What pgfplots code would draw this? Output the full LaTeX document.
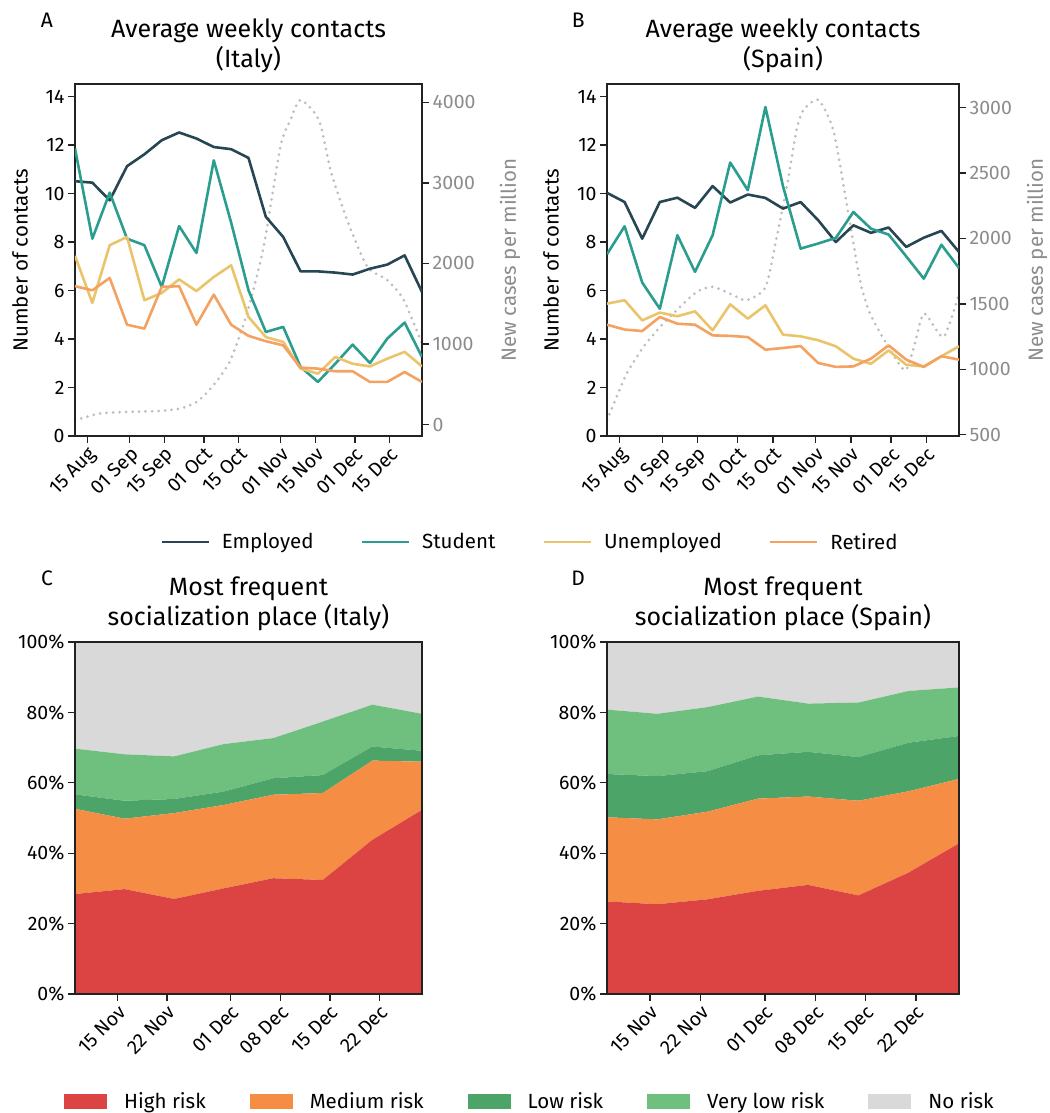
\documentclass[border=0pt]{standalone}
\usepackage{fontspec}
\setmainfont{Fira Sans}
\usepackage{pgfplots}
\pgfplotsset{compat=1.18}
\definecolor{cEmp}{HTML}{264653}
\definecolor{cStu}{HTML}{2A9D8F}
\definecolor{cUne}{HTML}{E9C46A}
\definecolor{cRet}{HTML}{F4A261}
\definecolor{cCase}{HTML}{BDBDBD}
\definecolor{cGray}{HTML}{8C8C8C}
\definecolor{rHigh}{HTML}{DC4343}
\definecolor{rMed}{HTML}{F68D45}
\definecolor{rLow}{HTML}{4CA468}
\definecolor{rVLow}{HTML}{6FC07F}
\definecolor{rNo}{HTML}{D9D9D9}
\definecolor{axc}{HTML}{222222}
\newcommand\tfs{\fontsize{19.5}{23}\selectfont}
\newcommand\lfs{\fontsize{20.5}{24}\selectfont}
\newcommand\pfs{\fontsize{21}{24}\selectfont}
\newcommand\ttfs{\fontsize{25}{30}\selectfont}
\pgfplotsset{
  base/.style={scale only axis, height=352pt, clip mode=individual,
    axis line style={line width=1.5pt, color=axc},
    every tick/.style={line width=1.3pt, color=axc},
    major tick length=7pt, tick align=outside,
    ticklabel style={font=\tfs},
    label style={font=\lfs},
    /pgf/number format/assume math mode=true,
    /pgf/number format/1000 sep={},
  },
  contax/.style={base, xmin=-5, xmax=135, ymin=0, ymax=14.52,
    xtick pos=bottom, ytick pos=left,
    ytick={0,2,...,14},
    xtick={0,17,31,47,61,78,92,108,122},
    xticklabels={15 Aug,01 Sep,15 Sep,01 Oct,15 Oct,01 Nov,15 Nov,01 Dec,15 Dec},
    xticklabel style={rotate=45, anchor=north east, inner sep=2pt},
    ylabel={Number of contacts},
    title style={font=\ttfs, align=center, anchor=south, at={(0.5,1)}, yshift=2pt},
  },
  casesax/.style={base, xmin=-5, xmax=135, axis x line=none, axis y line*=right,
    yticklabel style={color=cGray},
    ylabel style={color=cGray, anchor=center},
  },
  caseline/.style={color=cCase, line width=3pt, line cap=round, dash pattern=on 0pt off 6.5pt, smooth, tension=0.4},
  ln/.style={line width=2.6pt, line join=round},
  areaax/.style={base, xmin=-6, xmax=43, ymin=0, ymax=100, axis on top,
    xtick pos=bottom, ytick pos=left,
    ytick={0,20,...,100}, yticklabels={0\%,20\%,40\%,60\%,80\%,100\%},
    xtick={0,7,16,23,30,37},
    xticklabels={15 Nov,22 Nov,01 Dec,08 Dec,15 Dec,22 Dec},
    xticklabel style={rotate=45, anchor=north east, inner sep=2pt},
    title style={font=\ttfs, align=center, anchor=south, at={(0.5,1)}, yshift=2pt},
    stack plots=y, area legend,
  },
}
\begin{document}
\begin{tikzpicture}
\path[use as bounding box] (0,0) rectangle (1049pt,1113pt);

% ---------------- A ----------------
\begin{axis}[casesax, at={(75pt,677pt)}, width=347pt, ymin=-141.6, ymax=4227,
  ytick={0,1000,...,4000}, ylabel={New cases per million},
  ylabel style={at={(axis description cs:1.254,0.5)}}]
\addplot[caseline] coordinates {(-5,54)(5.1,137)(15.9,157)(29.4,170)(37.5,199)(44.2,282)(50.9,489)(57.7,799)(64.4,1379)(71.1,2207)(77.9,3449)(81.9,3780)(86,4029)(93.4,3780)(98.1,3159)(104.8,2538)(112.9,1959)(121,1793)(127.7,1544)(135,1006)};
\end{axis}
\begin{axis}[contax, at={(75pt,677pt)}, width=347pt,
  title={Average weekly contacts\\(Italy)},
  ylabel style={at={(axis description cs:-0.158,0.5)}, anchor=center},
  legend columns=4,
  legend style={at={(axis description cs:1.311,-0.301)}, anchor=center, draw=none, fill=none, font=\lfs,
    /tikz/every odd column/.append style={column sep=10pt},
    /tikz/every even column/.append style={column sep=45pt}},
  legend image code/.code={\draw[#1] (0pt,0pt) -- (47pt,0pt);},
  ]
\addplot[ln, cEmp] coordinates {(-5,10.51)(2,10.45)(9,9.72)(16,11.13)(23,11.62)(30,12.20)(37,12.52)(44,12.27)(51,11.92)(58,11.83)(65,11.47)(72,9.04)(79,8.21)(86,6.79)(93,6.79)(100,6.74)(107,6.66)(114,6.90)(121,7.07)(128,7.45)(135,5.94)};
\addlegendentry{Employed}
\addplot[ln, cStu] coordinates {(-5,11.86)(2,8.14)(9,10.04)(16,8.14)(23,7.87)(30,6.15)(37,8.66)(44,7.55)(51,11.37)(58,8.8)(65,6.01)(72,4.29)(79,4.50)(86,2.85)(93,2.23)(100,2.98)(107,3.77)(114,3.01)(121,4.02)(128,4.68)(135,3.26)};
\addlegendentry{Student}
\addplot[ln, cUne] coordinates {(-5,7.43)(2,5.49)(9,7.87)(16,8.21)(23,5.60)(30,5.90)(37,6.46)(44,5.98)(51,6.56)(58,7.04)(65,4.91)(72,4.08)(79,3.88)(86,2.78)(93,2.57)(100,3.26)(107,2.98)(114,2.87)(121,3.19)(128,3.47)(135,2.87)};
\addlegendentry{Unemployed}
\addplot[ln, cRet] coordinates {(-5,6.18)(2,6.01)(9,6.52)(16,4.59)(23,4.43)(30,6.15)(37,6.18)(44,4.59)(51,5.83)(58,4.59)(65,4.13)(72,3.91)(79,3.74)(86,2.82)(93,2.78)(100,2.67)(107,2.67)(114,2.23)(121,2.23)(128,2.64)(135,2.23)};
\addlegendentry{Retired}
\node[font=\pfs] at (axis description cs:-0.081,1.182) {A};
\end{axis}

% ---------------- B ----------------
\begin{axis}[casesax, at={(607pt,677pt)}, width=352pt, ymin=490, ymax=3181,
  ytick={500,1000,...,3000}, ylabel={New cases per million},
  ylabel style={at={(axis description cs:1.222,0.5)}}]
\addplot[caseline] coordinates {(-5,610)(-1.2,788)(2.8,967)(9.5,1171)(16.1,1324)(22.7,1452)(30.7,1592)(37,1630)(43.9,1579)(50.5,1528)(58.1,1630)(62.5,2013)(66.5,2395)(70.4,2829)(73.1,2982)(79.1,3059)(85,2829)(90.3,2268)(95.6,1681)(99.6,1426)(106.9,1171)(113.5,992)(116.8,1150)(121.1,1426)(128.8,1247)(135,1579)};
\end{axis}
\begin{axis}[contax, at={(607pt,677pt)}, width=352pt,
  title={Average weekly contacts\\(Spain)},
  ylabel style={at={(axis description cs:-0.159,0.5)}, anchor=center},
  ]
\addplot[ln, cEmp] coordinates {(-5,10.03)(2,9.65)(9,8.14)(16,9.65)(23,9.83)(30,9.41)(37,10.31)(44,9.63)(51,9.96)(58,9.82)(65,9.38)(72,9.65)(79,8.90)(86,8.00)(93,8.69)(100,8.38)(107,8.60)(114,7.80)(121,8.18)(128,8.46)(135,7.59)};
\addplot[ln, cStu] coordinates {(-5,7.50)(2,8.65)(9,6.33)(16,5.25)(23,8.28)(30,6.77)(37,8.28)(44,11.28)(51,10.14)(58,13.57)(65,10.3)(72,7.73)(79,7.94)(86,8.17)(93,9.24)(100,8.55)(107,8.31)(114,7.41)(121,6.49)(128,7.89)(135,6.93)};
\addplot[ln, cUne] coordinates {(-5,5.46)(2,5.60)(9,4.77)(16,5.09)(23,4.94)(30,5.14)(37,4.36)(44,5.43)(51,4.84)(58,5.39)(65,4.18)(72,4.11)(79,3.95)(86,3.70)(93,3.19)(100,2.98)(107,3.53)(114,2.94)(121,2.87)(128,3.29)(135,3.70)};
\addplot[ln, cRet] coordinates {(-5,4.59)(2,4.39)(9,4.33)(16,4.91)(23,4.63)(30,4.59)(37,4.15)(44,4.13)(51,4.08)(58,3.56)(65,3.63)(72,3.71)(79,3.01)(86,2.85)(93,2.87)(100,3.19)(107,3.74)(114,3.15)(121,2.85)(128,3.29)(135,3.15)};
\node[font=\pfs] at (axis description cs:-0.082,1.182) {B};
\end{axis}

% ---------------- C ----------------
\begin{axis}[areaax, at={(75pt,119pt)}, width=347pt,
  title={Most frequent\\socialization place (Italy)},
  legend columns=5,
  legend style={at={(axis description cs:1.311,-0.304)}, anchor=center, draw=none, fill=none, font=\lfs,
    /tikz/every odd column/.append style={column sep=15pt},
    /tikz/every even column/.append style={column sep=42pt}},
  legend image code/.code={\fill[#1] (0pt,-7.5pt) rectangle (43pt,7.5pt);},
  ]
\addplot[fill=rHigh, draw=none] coordinates {(-6,28.4)(1,29.8)(8,27.0)(15,30.0)(22,32.9)(29,32.4)(36,43.8)(43,52.3)} \closedcycle;
\addlegendentry{High risk}
\addplot[fill=rMed, draw=none] coordinates {(-6,24.2)(1,20.0)(8,24.4)(15,23.7)(22,23.7)(29,24.7)(36,22.5)(43,13.7)} \closedcycle;
\addlegendentry{Medium risk}
\addplot[fill=rLow, draw=none] coordinates {(-6,4.1)(1,5.1)(8,4.0)(15,3.8)(22,4.7)(29,5.1)(36,4.0)(43,3.1)} \closedcycle;
\addlegendentry{Low risk}
\addplot[fill=rVLow, draw=none] coordinates {(-6,13.0)(1,13.2)(8,12.1)(15,13.5)(22,11.4)(29,15.2)(36,11.9)(43,10.5)} \closedcycle;
\addlegendentry{Very low risk}
\addplot[fill=rNo, draw=none] coordinates {(-6,30.3)(1,31.9)(8,32.5)(15,29.0)(22,27.3)(29,22.6)(36,17.8)(43,20.4)} \closedcycle;
\addlegendentry{No risk}
\node[font=\pfs] at (axis description cs:-0.081,1.182) {C};
\end{axis}

% ---------------- D ----------------
\begin{axis}[areaax, at={(607pt,119pt)}, width=352pt,
  title={Most frequent\\socialization place (Spain)},
  ]
\addplot[fill=rHigh, draw=none] coordinates {(-6,26.3)(1,25.5)(8,26.9)(15,29.3)(22,31.0)(29,28.0)(36,34.5)(43,42.8)} \closedcycle;
\addplot[fill=rMed, draw=none] coordinates {(-6,23.9)(1,24.1)(8,24.9)(15,26.2)(22,25.1)(29,26.9)(36,23.1)(43,18.3)} \closedcycle;
\addplot[fill=rLow, draw=none] coordinates {(-6,12.3)(1,12.3)(8,11.5)(15,12.3)(22,12.7)(29,12.4)(36,13.8)(43,12.2)} \closedcycle;
\addplot[fill=rVLow, draw=none] coordinates {(-6,18.3)(1,17.7)(8,18.2)(15,16.7)(22,13.7)(29,15.5)(36,14.7)(43,13.8)} \closedcycle;
\addplot[fill=rNo, draw=none] coordinates {(-6,19.2)(1,20.4)(8,18.5)(15,15.5)(22,17.5)(29,17.2)(36,13.9)(43,12.9)} \closedcycle;
\node[font=\pfs] at (axis description cs:-0.082,1.182) {D};
\end{axis}
\end{tikzpicture}
\end{document}
